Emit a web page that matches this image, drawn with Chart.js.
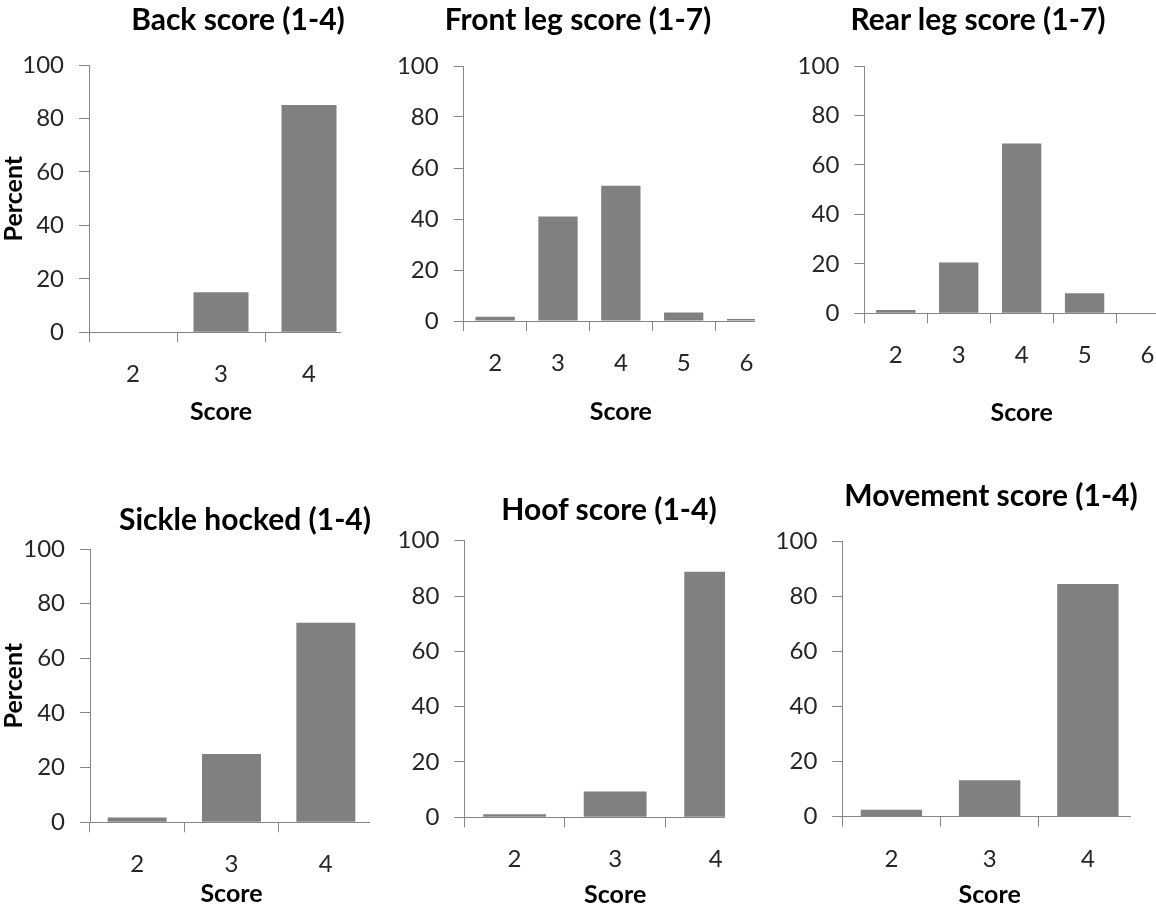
<!DOCTYPE html>
<html><head><meta charset="utf-8">
<script src="https://cdn.jsdelivr.net/npm/chart.js@4.4.1/dist/chart.umd.min.js"></script>
<style>
html,body{margin:0;padding:0;background:#fff;width:1156px;height:904px;overflow:hidden;position:relative;font-family:Lato,sans-serif}
.box{position:absolute;overflow:hidden}
.box canvas{position:absolute;left:0;top:0}
.ttl{position:absolute;transform:translate(-50%,-50%);white-space:nowrap;font-weight:700;font-size:30px;line-height:1;color:#000}
</style></head><body>
<script>
// ---- data ----
const backLabels = ['2','3','4'];
const backPercent = [0, 15, 85];
const frontLegLabels = ['2','3','4','5','6'];
const frontLegPercent = [1.7, 41, 53, 3.3, 0.8];
const rearLegLabels = ['2','3','4','5','6'];
const rearLegPercent = [1.3, 20.5, 68.7, 8.1, 0];
const sickleLabels = ['2','3','4'];
const sicklePercent = [1.8, 25, 73];
const hoofLabels = ['2','3','4'];
const hoofPercent = [1.1, 9.3, 88.8];
const movementLabels = ['2','3','4'];
const movementPercent = [2.5, 13.3, 84.6];
const yMin = 0, yMax = 100, yStep = 20;
const xTitle = 'Score';
const yTitle = 'Percent';

// ---- layout ----
const panels = [
  {title:'Back score (1-4)', labels:backLabels, values:backPercent, yTitle:yTitle,
   axisX:89, y100:65, y0:332.3, cat:88, cx:0, cy:0, clipW:341, scoreY:412.5, tx:238, ty:18},
  {title:'Front leg score (1-7)', labels:frontLegLabels, values:frontLegPercent, yTitle:null,
   axisX:463.7, y100:66, y0:321, cat:62.7, cx:383, cy:0, clipW:372, scoreY:412.5, tx:578, ty:18},
  {title:'Rear leg score (1-7)', labels:rearLegLabels, values:rearLegPercent, yTitle:null,
   axisX:864.3, y100:66, y0:313.3, cat:62.85, cx:784, cy:0, clipW:372, scoreY:413.5, tx:978, ty:18},
  {title:'Sickle hocked (1-4)', labels:sickleLabels, values:sicklePercent, yTitle:yTitle,
   axisX:90, y100:549, y0:822.3, cat:94.2, cx:0, cy:470, clipW:369.5, scoreY:894, tx:245, ty:518},
  {title:'Hoof score (1-4)', labels:hoofLabels, values:hoofPercent, yTitle:null,
   axisX:464.3, y100:540.7, y0:817.3, cat:100.4, cx:384, cy:470, clipW:340.5, scoreY:895, tx:609, ty:508},
  {title:'Movement score (1-4)', labels:movementLabels, values:movementPercent, yTitle:null,
   axisX:842.3, y100:541.7, y0:816.7, cat:98, cx:762, cy:470, clipW:369, scoreY:895, tx:991, ty:494}
];

const AX = '#868686';
const TXT = '#262626';
Chart.defaults.font.family = 'Lato, sans-serif';

panels.forEach(p => {
  const titleLH = 1.1, titleSize = 25;
  const half = titleSize * titleLH / 2;
  const W = Math.ceil(p.axisX + p.labels.length * p.cat - p.cx);
  const H = Math.round(p.scoreY + half - p.cy);
  const box = document.createElement('div');
  box.className = 'box';
  box.style.left = p.cx + 'px';
  box.style.top = p.cy + 'px';
  box.style.width = p.clipW + 'px';
  box.style.height = Math.min(H, 904 - p.cy) + 'px';
  const cv = document.createElement('canvas');
  cv.width = W; cv.height = H;
  cv.style.width = W + 'px'; cv.style.height = H + 'px';
  box.appendChild(cv);
  document.body.appendChild(box);

  const t = document.createElement('div');
  t.className = 'ttl';
  t.style.left = p.tx + 'px';
  t.style.top = p.ty + 'px';
  t.textContent = p.title;
  document.body.appendChild(t);

  new Chart(cv, {
    type: 'bar',
    data: {
      labels: p.labels,
      datasets: [{data: p.values, backgroundColor: '#808080', borderWidth: 0,
                  barPercentage: 0.625, categoryPercentage: 1}]
    },
    options: {
      responsive: false, animation: false, devicePixelRatio: 1,
      layout: {padding: {top: p.y100 - p.cy, left: 0, right: 0, bottom: 0}},
      plugins: {legend: {display: false}, tooltip: {enabled: false}, title: {display: false}},
      scales: {
        x: {
          type: 'category', offset: true,
          grid: {offset: true, drawOnChartArea: false, drawTicks: true, tickLength: 10, color: AX, lineWidth: 1},
          border: {display: true, color: AX, width: 1},
          ticks: {color: TXT, font: {size: 24}, padding: 18, maxRotation: 0, autoSkip: false},
          title: {display: true, text: xTitle, color: '#000', padding: 0,
                  font: {size: titleSize, weight: 'bold', lineHeight: titleLH}},
          afterFit: s => { s.height = H - (p.y0 - p.cy); }
        },
        y: {
          min: yMin, max: yMax,
          ticks: {stepSize: yStep, color: TXT, font: {size: 24}, padding: 15},
          grid: {drawOnChartArea: false, drawTicks: true, tickLength: 10, color: AX, lineWidth: 1},
          border: {display: true, color: AX, width: 1},
          title: {display: !!p.yTitle, text: p.yTitle || '', color: '#000', padding: 0,
                  font: {size: titleSize, weight: 'bold', lineHeight: titleLH}},
          afterFit: s => { s.width = p.axisX - p.cx; }
        }
      }
    }
  });
});
</script>
</body></html>
